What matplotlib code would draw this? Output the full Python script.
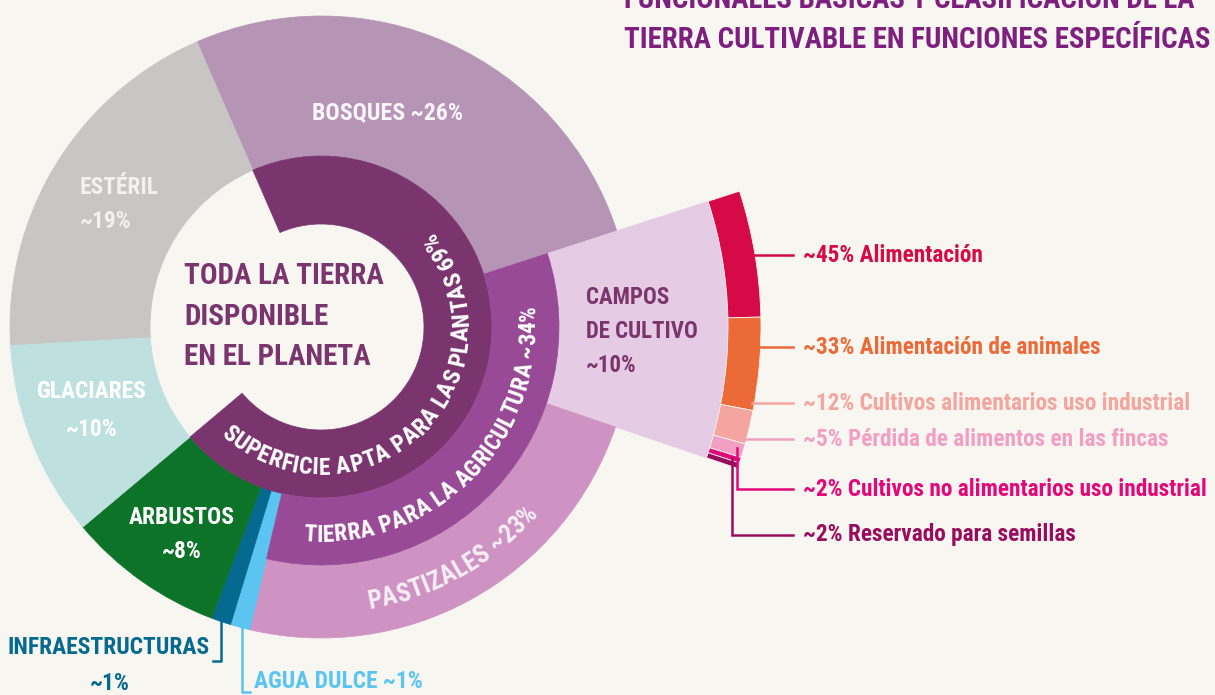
import numpy as np
import matplotlib.pyplot as plt
from matplotlib.patches import Wedge

plt.rcParams['font.family'] = ['Roboto Condensed', 'Liberation Sans Narrow', 'DejaVu Sans']
plt.rcParams['font.stretch'] = 'condensed'

# all land on the planet, clockwise from the top-left edge of BOSQUES
land_labels = ['BOSQUES', 'CAMPOS DE CULTIVO', 'PASTIZALES', 'AGUA DULCE',
               'INFRAESTRUCTURAS', 'ARBUSTOS', 'GLACIARES', 'ESTÉRIL']
land_pct = [26, 10, 23, 1, 1, 8, 10, 19]
land_colors = ['#B594B5', '#E6CBE4', '#CE93C3', '#5BC4F1',
               '#066990', '#0D7329', '#BEE0DF', '#C8C5C4']

plants_pct = 69   # superficie apta para las plantas
agri_pct = 34     # tierra para la agricultura (campos + pastizales)

# what the cropland is used for
crop_labels = ['Alimentación', 'Alimentación de animales',
               'Cultivos alimentarios uso industrial',
               'Pérdida de alimentos en las fincas',
               'Cultivos no alimentarios uso industrial',
               'Reservado para semillas']
crop_pct = [45, 33, 12, 5, 2, 2]
crop_colors = ['#D50A47', '#EB6A37', '#F4A59F', '#F29FC4', '#E2087A', '#9A0D5E']

BG = '#F7F6F1'
DARK = '#7B356E'
AGRI = '#984A97'
W, H = 1215, 695

fig = plt.figure(figsize=(W / 100, H / 100), dpi=100)
fig.patch.set_facecolor(BG)
ax = fig.add_axes([0, 0, 1, 1])
ax.set_xlim(0, W)
ax.set_ylim(0, H)
ax.axis('off')
renderer = fig.canvas.get_renderer()


def Y(py):
    return H - py


def text_width(s, size):
    t = ax.text(0, 0, s, fontsize=size, fontweight='bold')
    w = t.get_window_extent(renderer).width
    t.remove()
    return w


def fit(s, target, cap_px):
    # font size that gives the reference width, but no taller than its caps
    size = 10 * target / text_width(s, 10)
    return min(size, cap_px / 0.73 * 0.72)


cx, cy = 321, Y(327)
r0, r1, r2, R, Rc, Rs = 103, 171, 238, 311, 407, 440
START = 113.5

total = sum(land_pct)
spans = np.array(land_pct) / total * 360
t2 = START - np.concatenate([[0], np.cumsum(spans)[:-1]])
t1 = t2 - spans

for i, lab in enumerate(land_labels):
    inner = r2 if lab in ('CAMPOS DE CULTIVO', 'PASTIZALES') else r1
    outer = Rc if lab == 'CAMPOS DE CULTIVO' else R
    ax.add_patch(Wedge((cx, cy), outer, t1[i], t2[i], width=outer - inner,
                       fc=land_colors[i], ec=land_colors[i], lw=0.5))

# inner rings
ax.add_patch(Wedge((cx, cy), r1, START - plants_pct / total * 360, START,
                   width=r1 - r0, fc=DARK, ec=DARK, lw=0.5))
ax.add_patch(Wedge((cx, cy), r2, t1[2], t2[1], width=r2 - r1,
                   fc=AGRI, ec=AGRI, lw=0.5))

# cropland breakdown
cspans = np.array(crop_pct) / sum(crop_pct) * spans[1]
c2 = t2[1] - np.concatenate([[0], np.cumsum(cspans)[:-1]])
c1 = c2 - cspans
for i in range(len(crop_pct)):
    ax.add_patch(Wedge((cx, cy), Rs, c1[i], c2[i], width=Rs - Rc,
                       fc=crop_colors[i], ec=BG, lw=0.6))

crop_texts = [f'~{v}% {lab}' for lab, v in zip(crop_labels, crop_pct)]
fs_crop = fit(crop_texts[4], 405, 22)
label_py = [255, 347, 403, 439, 489, 535]
for i, txt in enumerate(crop_texts):
    py = label_py[i]
    col = crop_colors[i]
    if i < 4:
        x0 = cx + np.sqrt(Rs ** 2 - (cy - Y(py)) ** 2)
        ax.plot([x0 - 2, 793], [Y(py), Y(py)], color=col, lw=1.8)
    else:
        ex, ey = [(737, 448), (732, 458)][i - 4]
        ax.plot([ex, ex, 793], [Y(ey), Y(py), Y(py)], color=col, lw=1.8,
                solid_joinstyle='miter')
    ax.text(803, Y(py), txt, color=col, fontsize=fs_crop,
            fontweight='bold', ha='left', va='center')

# small slices at the bottom
fs_small = fit('INFRAESTRUCTURAS', 201, 24)
ax.plot([221, 221, 213], [Y(622), Y(661), Y(661)], color='#066990', lw=1.8)
ax.plot([242, 242, 250], [Y(628), Y(692), Y(692)], color='#5BC4F1', lw=1.8)
ax.text(210, Y(647), 'INFRAESTRUCTURAS', color='#066990', fontsize=fs_small,
        fontweight='bold', ha='right', va='center')
ax.text(110, Y(683), '~1%', color='#066990', fontsize=fs_small,
        fontweight='bold', ha='center', va='center')
ax.text(254, Y(682), 'AGUA DULCE ~1%', color='#5BC4F1', fontsize=fs_small,
        fontweight='bold', ha='left', va='center')

# labels inside the ring
fs_ring = fit('ARBUSTOS', 105, 23)
ax.text(388, Y(113), 'BOSQUES ~26%', color='#FBF6FB',
        fontsize=fit('BOSQUES ~26%', 150, 24),
        fontweight='bold', ha='center', va='center')
ax.text(80, Y(187), 'ESTÉRIL', color='#F3F1F1', fontsize=fs_ring,
        fontweight='bold', ha='left', va='center')
ax.text(80, Y(222), '~19%', color='#F3F1F1', fontsize=fs_ring,
        fontweight='bold', ha='left', va='center')
ax.text(92, Y(392), 'GLACIARES', color='white', fontsize=fs_ring,
        fontweight='bold', ha='center', va='center')
ax.text(92, Y(430), '~10%', color='white', fontsize=fs_ring,
        fontweight='bold', ha='center', va='center')
ax.text(182, Y(518), 'ARBUSTOS', color='white', fontsize=fs_ring,
        fontweight='bold', ha='center', va='center')
ax.text(182, Y(551), '~8%', color='white', fontsize=fs_ring,
        fontweight='bold', ha='center', va='center')
fs_campos = fit('DE CULTIVO', 112, 23)
for txt, py in zip(['CAMPOS', 'DE CULTIVO', '~10%'], [297, 331, 366]):
    ax.text(586, Y(py), txt, color=DARK, fontsize=fs_campos,
            fontweight='bold', ha='left', va='center')
fs_center = fit('TODA LA TIERRA', 199, 31)
for txt, py in zip(['TODA LA TIERRA', 'DISPONIBLE', 'EN EL PLANETA'],
                   [276, 317, 357]):
    ax.text(184, Y(py), txt, color=DARK, fontsize=fs_center,
            fontweight='bold', ha='left', va='center')


# curved labels, one character at a time along the ring
def arc_text(s, r_mid, mid_deg, arc_len, cap_px, color):
    size = fit(s, arc_len, cap_px)
    total_len = text_width(s, size)
    cap = 0.73 * size * 100 / 72
    rb = r_mid + cap / 2
    mid = np.radians(mid_deg)
    for i, ch in enumerate(s):
        if ch == ' ':
            continue
        # ink centre of this glyph inside the whole string
        c = text_width(s[:i + 1], size) - text_width(ch, size) / 2
        th = mid - (total_len / 2) / r_mid + c / r_mid
        ax.text(cx + rb * np.cos(th), cy + rb * np.sin(th), ch, color=color,
                fontsize=size, fontweight='bold', ha='center', va='baseline',
                rotation=np.degrees(th) + 90, rotation_mode='anchor')


arc_text(f'SUPERFICIE APTA PARA LAS PLANTAS {plants_pct}%', 139,
         -46, 422, 21, 'white')
arc_text(f'TIERRA PARA LA AGRICULTURA ~{agri_pct}%', 206,
         -44.5, 361, 21, 'white')
arc_text(f'PASTIZALES ~{land_pct[2]}%', 277, -60.5, 191, 24, '#F7EEF5')

# title (first line runs off the top)
TITLE = '#7E1F7F'
t_a = 'FUNCIONALES BÁSICAS Y CLASIFICACIÓN DE LA'
t_b = 'TIERRA CULTIVABLE EN FUNCIONES ESPECÍFICAS'
fs_title = fit(t_b, 584, 28)
ax.text(624, Y(8), t_a, color=TITLE, fontsize=fs_title, fontweight='bold',
        ha='left', va='baseline')
ax.text(624, Y(48), t_b, color=TITLE, fontsize=fs_title, fontweight='bold',
        ha='left', va='baseline')

fig.savefig('out.png', dpi=100, facecolor=BG)
